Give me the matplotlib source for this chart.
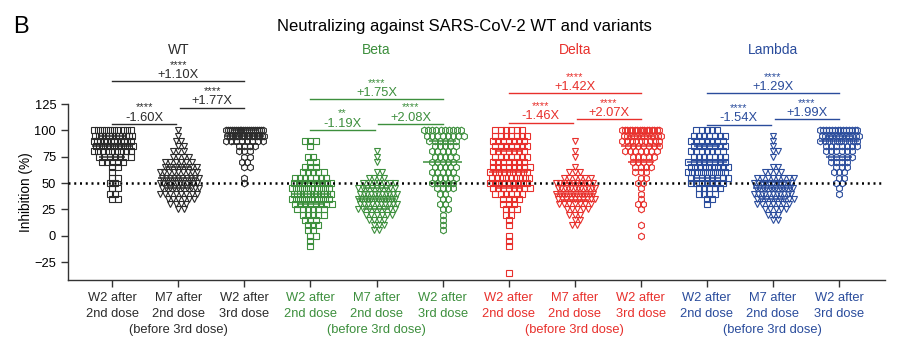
import numpy as np
import matplotlib.pyplot as plt

plt.rcParams['font.family'] = ['Liberation Sans', 'DejaVu Sans']

cats = ["W2 after\n2nd dose", "M7 after\n2nd dose", "W2 after\n3rd dose"]
note = "(before 3rd dose)"
variants = ["WT", "Beta", "Delta", "Lambda"]
colors = ["#2b2b2b", "#3d8f3d", "#e8302c", "#2a4c9c"]
markers = ["s", "v", "h"]

# (inhibition %, number of sera)
wt_2nd = [(100, 10), (95, 12), (90, 12), (85, 11), (80, 9), (75, 7), (70, 5), (65, 2),
          (60, 1), (55, 2), (50, 2), (45, 2), (40, 2), (35, 2)]
wt_m7 = [(100, 1), (95, 1), (90, 2), (85, 2), (80, 3), (75, 4), (70, 6), (65, 7), (60, 9),
         (55, 10), (50, 12), (45, 10), (40, 8), (35, 6), (30, 4), (25, 2)]
wt_3rd = [(100, 20), (95, 16), (90, 8), (85, 4), (80, 3), (75, 2), (70, 2), (65, 2),
          (55, 1), (50, 1)]
beta_2nd = [(90, 3), (85, 1), (75, 2), (70, 2), (65, 3), (60, 5), (55, 7), (50, 9), (45, 10),
            (40, 12), (35, 10), (30, 8), (25, 6), (20, 5), (15, 3), (10, 3), (5, 2), (0, 2),
            (-5, 1), (-10, 1)]
beta_m7 = [(80, 1), (75, 1), (70, 1), (60, 2), (55, 4), (50, 7), (45, 9), (40, 11), (35, 12),
           (30, 10), (25, 8), (20, 6), (15, 4), (10, 3), (5, 2)]
beta_3rd = [(100, 10), (95, 8), (90, 6), (85, 5), (80, 5), (75, 5), (70, 5), (65, 5), (60, 5),
            (55, 5), (50, 5), (45, 4), (40, 2), (35, 2), (30, 2), (25, 2), (20, 1), (15, 1),
            (10, 1), (5, 1)]
delta_2nd = [(100, 6), (95, 7), (90, 7), (85, 7), (80, 7), (75, 7), (70, 7), (65, 8), (60, 9),
             (55, 9), (50, 9), (45, 8), (40, 6), (35, 4), (30, 3), (25, 3), (20, 2), (15, 1),
             (10, 1), (0, 1), (-5, 1), (-10, 1), (-35, 1)]
delta_m7 = [(90, 1), (80, 1), (75, 1), (65, 1), (60, 3), (55, 6), (50, 10), (45, 12), (40, 12),
            (35, 10), (30, 7), (25, 5), (20, 3), (15, 2), (10, 2)]
delta_3rd = [(100, 16), (95, 12), (90, 9), (85, 7), (80, 7), (75, 5), (70, 4), (65, 4), (60, 3),
             (55, 2), (50, 2), (45, 1), (40, 1), (35, 1), (30, 2), (25, 1), (10, 1), (0, 1)]
lambda_2nd = [(100, 5), (95, 7), (90, 7), (85, 7), (80, 7), (75, 7), (70, 8), (65, 9), (60, 10),
              (55, 8), (50, 7), (45, 5), (40, 4), (35, 2), (30, 1)]
lambda_m7 = [(95, 1), (90, 1), (85, 1), (80, 2), (75, 1), (65, 2), (60, 4), (55, 8), (50, 11),
             (45, 12), (40, 11), (35, 9), (30, 7), (25, 5), (20, 3), (15, 2)]
lambda_3rd = [(100, 14), (95, 12), (90, 10), (85, 7), (80, 6), (75, 5), (70, 4), (65, 3),
              (60, 3), (55, 2), (50, 2), (45, 1), (40, 1)]

groups = [wt_2nd, wt_m7, wt_3rd, beta_2nd, beta_m7, beta_3rd,
          delta_2nd, delta_m7, delta_3rd, lambda_2nd, lambda_m7, lambda_3rd]

folds = [["+1.10X", "-1.60X", "+1.77X"],
         ["+1.75X", "-1.19X", "+2.08X"],
         ["+1.42X", "-1.46X", "+2.07X"],
         ["+1.29X", "-1.54X", "+1.99X"]]
stars = [["****", "****", "****"],
         ["****", "**", "****"],
         ["****", "****", "****"],
         ["****", "****", "****"]]

# bracket heights (big, left, right) per variant
bracket_y = [(146.6, 106.3, 121.6), (129.6, 100.6, 106.3), (135, 107.3, 111), (135, 105.4, 111)]


def swarm(counts, center, dx=0.08, maxw=0.56):
    # simple beeswarm: one row per value, alternate rows offset half a step
    xs, ys = [], []
    for r, (v, n) in enumerate(counts):
        step = dx if n < 2 else min(dx, maxw / (n - 1))
        off = (np.arange(n) - (n - 1) / 2) * step
        if n > 1 and r % 2:
            off = off + step / 2
        xs += list(center + off)
        ys += [v] * n
    return np.array(xs), np.array(ys)


fig = plt.figure(figsize=(9.04, 3.41), dpi=100)
ax = fig.add_axes([0.0752, 0.179, 0.904, 0.516])

for i, counts in enumerate(groups):
    col = colors[i // 3]
    xs, ys = swarm(counts, i)
    ax.plot(xs, ys, linestyle='none', marker=markers[i % 3], ms=4.8, mfc='none',
            mec=col, mew=0.8, zorder=2)
    q1, med, q3 = np.percentile(ys, [25, 50, 75])
    ax.hlines(med, i - 0.3, i + 0.3, color=col, lw=1.1, zorder=3)
    ax.hlines([q1, q3], i - 0.2, i + 0.2, color=col, lw=1.1, zorder=3)

ax.axhline(50, color='black', lw=1.8, linestyle=(0, (0.8, 1.5)), zorder=4)

for j, name in enumerate(variants):
    col = colors[j]
    i0 = 3 * j
    ax.text(i0 + 1, 176, name, color=col, fontsize=10, ha='center', va='center', clip_on=False)
    ax.annotate(note, xy=(i0 + 1, 0), xycoords=('data', 'axes fraction'),
                xytext=(0, -36), textcoords='offset points', color=col, fontsize=9.3,
                ha='center', va='center')
    spans = [(i0, i0 + 2), (i0, i0 + 0.97), (i0 + 1.03, i0 + 2)]
    for k in range(3):
        y = bracket_y[j][k]
        x0, x1 = spans[k]
        ax.plot([x0, x1], [y, y], color=col, lw=1, clip_on=False)
        xm = (x0 + x1) / 2
        ax.text(xm, y + 3, folds[j][k], color=col, fontsize=9.3, ha='center', va='baseline',
                clip_on=False)
        ax.text(xm, y + 12.5, stars[j][k], color=col, fontsize=8, ha='center', va='baseline',
                clip_on=False)

ax.set_xlim(-0.67, 11.7)
ax.set_ylim(-42, 125)
ax.set_yticks([-25, 0, 25, 50, 75, 100, 125])
ax.set_xticks(range(12))
ax.set_xticklabels(cats * 4, fontsize=9.3)
for i, lab in enumerate(ax.get_xticklabels()):
    lab.set_color(colors[i // 3])
    lab.set_linespacing(1.37)
ax.tick_params(axis='y', labelsize=9.3, length=5, width=1, color='#333333')
ax.tick_params(axis='x', length=5, width=1, color='#333333', pad=4)
ax.set_ylabel("Inhibition (%)", fontsize=9.8, labelpad=1)
for s in ['top', 'right']:
    ax.spines[s].set_visible(False)
for s in ['left', 'bottom']:
    ax.spines[s].set_color('#333333')
    ax.spines[s].set_linewidth(1)

fig.text(0.514, 0.921, "Neutralizing against SARS-CoV-2 WT and variants", fontsize=12,
         ha='center', va='center')
fig.text(0.0144, 0.922, "B", fontsize=17, ha='left', va='center')

fig.savefig("out.png", dpi=100)
